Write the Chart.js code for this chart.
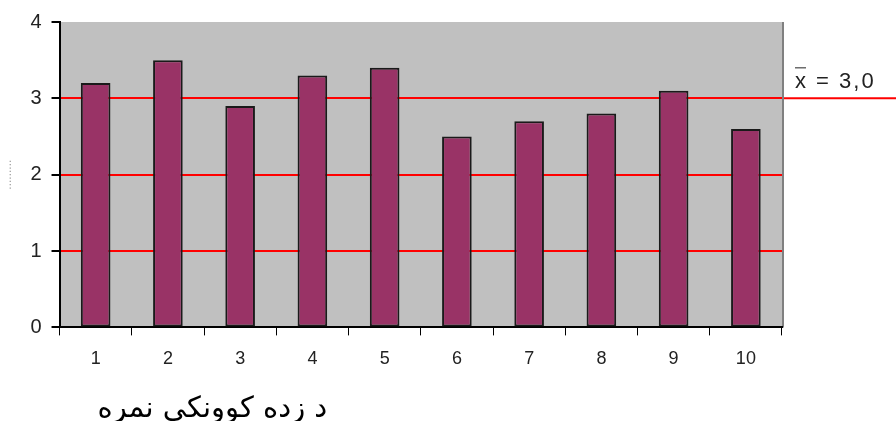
<!DOCTYPE html>
<html>
<head>
<meta charset="utf-8">
<script src="https://cdn.jsdelivr.net/npm/chart.js@4"></script>
<style>
  html, body { margin: 0; padding: 0; background: #fff; }
  #wrap { width: 896px; height: 421px; }
</style>
</head>
<body>
<div id="wrap"><canvas id="chart"></canvas></div>
<script>
// student scores, one bar per student
const students = ['1', '2', '3', '4', '5', '6', '7', '8', '9', '10'];
const scores = [3.2, 3.5, 2.9, 3.3, 3.4, 2.5, 2.7, 2.8, 3.1, 2.6];
const meanValue = 3.0;
const meanLabel = '= 3,0';
const xTitle = 'د زده کوونکي نمره';
const yTicks = [0, 1, 2, 3, 4];
const yGridColors = ['rgba(0,0,0,0)', '#ff0000', '#ff0000', '#ff0000', 'rgba(0,0,0,0)'];

// grey plot background + right edge
const plotBackground = {
    id: 'plotBackground',
    beforeDraw(chart) {
        const { ctx, chartArea: a } = chart;
        ctx.save();
        ctx.fillStyle = '#c0c0c0';
        ctx.fillRect(a.left, a.top, a.right - a.left, a.bottom - a.top);
        ctx.strokeStyle = '#808080';
        ctx.lineWidth = 2;
        ctx.beginPath();
        ctx.moveTo(a.right + 1, a.top);
        ctx.lineTo(a.right + 1, a.bottom);
        ctx.stroke();
        ctx.restore();
    }
};

// mean line runs out past the plot, with its label, plus the x title
const meanLine = {
    id: 'meanLine',
    afterDraw(chart) {
        const { ctx, chartArea: a, scales } = chart;
        const y = scales.y.getPixelForValue(meanValue);
        ctx.save();
        ctx.strokeStyle = '#ff0000';
        ctx.lineWidth = 2;
        ctx.beginPath();
        ctx.moveTo(a.right + 2, y);
        ctx.lineTo(chart.width, y);
        ctx.stroke();

        ctx.font = '22px "Liberation Sans", Arial, sans-serif';
        ctx.fillStyle = '#222';
        ctx.textBaseline = 'alphabetic';
        ctx.letterSpacing = '2px';
        const lx = a.right + 13;
        const ly = y - 10;
        ctx.fillText('x', lx, ly);
        const xw = ctx.measureText('x').width;
        ctx.strokeStyle = '#222';
        ctx.lineWidth = 1;
        ctx.beginPath();
        ctx.moveTo(lx, ly - 20.5);
        ctx.lineTo(lx + xw - 2, ly - 20.5);
        ctx.stroke();
        ctx.fillText(' ' + meanLabel, lx + xw, ly);

        ctx.letterSpacing = '0px';
        ctx.font = '29px "DejaVu Sans", sans-serif';
        ctx.fillStyle = '#000';
        ctx.textAlign = 'left';
        ctx.fillText(xTitle, a.left + 38, 417);
        ctx.restore();
    }
};

new Chart(document.getElementById('chart'), {
    type: 'bar',
    data: {
        labels: students,
        datasets: [{
            data: scores,
            backgroundColor: '#993366',
            borderColor: '#1a1a1a',
            borderWidth: 2,
            borderSkipped: false,
            barPercentage: 0.41,
            categoryPercentage: 1
        }]
    },
    options: {
        responsive: true,
        maintainAspectRatio: false,
        animation: false,
        layout: { padding: { top: 18, right: 114, bottom: 38, left: 0 } },
        plugins: { legend: { display: false }, tooltip: { enabled: false } },
        scales: {
            x: {
                grid: { drawOnChartArea: false, drawTicks: true, tickLength: 8, tickColor: '#000' },
                border: { color: '#000', width: 2 },
                ticks: { color: '#222', font: { family: '"Liberation Sans", Arial, sans-serif', size: 18 }, padding: 13 }
            },
            y: {
                min: 0,
                max: 4,
                afterBuildTicks(scale) {
                    scale.ticks = yTicks.map(v => ({ value: v }));
                },
                grid: {
                    color: yGridColors,
                    lineWidth: 2,
                    tickColor: '#000',
                    tickLength: 8
                },
                border: { color: '#000', width: 2 },
                title: {
                    display: true,
                    text: '.........',
                    color: '#aaa',
                    font: { size: 12 },
                    padding: { top: 0, bottom: 6 }
                },
                ticks: { color: '#222', font: { family: '"Liberation Sans", Arial, sans-serif', size: 20 }, padding: 10 }
            }
        }
    },
    plugins: [plotBackground, meanLine]
});
</script>
</body>
</html>
